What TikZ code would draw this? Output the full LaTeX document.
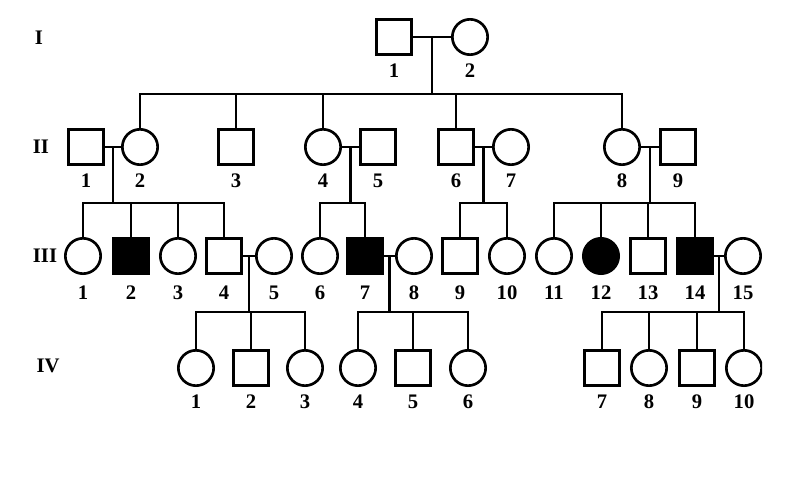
\documentclass[tikz,border=0pt]{standalone}
\usepackage{fontspec}
\setmainfont{Liberation Serif}
\usetikzlibrary{positioning, calc}
\tikzset{
  pedigree/.style={
	line width=2pt, % thick lines as in the scan
	x=0.75pt, y=-0.75pt, % one unit is one pixel, y goes down
	font=\fontsize{15.5}{17}\selectfont\bfseries,
	label distance=1.5pt,
  },
  male/.style={draw, rectangle, minimum size=26.5pt, inner sep=0pt}, % square
  female/.style={draw, circle, minimum size=26.5pt, inner sep=0pt}, % circle
  ill/.style={fill=black}, % affected person
}
\begin{document}
\begin{tikzpicture}[pedigree]
	  \useasboundingbox (0,0) rectangle (804,478);
	  \clip (0,0) rectangle (762,478);

	  % generations
	  \node (gI) at (39,38) {I};
	  \node (gII) at (41,147) {II};
	  \node (gIII) at (45,256) {III};
	  \node (gIV) at (48,366) {IV};

	  % I
	  \node[male, label=below:1] (I1) at (394,37) {};
	  \node[female, label=below:2] (I2) at (470,37) {};

	  % II
	  \node[male, label=below:1] (II1) at (86,147) {};
	  \node[female, label=below:2] (II2) at (140,147) {};
	  \node[male, label=below:3] (II3) at (236,147) {};
	  \node[female, label=below:4] (II4) at (323,147) {};
	  \node[male, label=below:5] (II5) at (378,147) {};
	  \node[male, label=below:6] (II6) at (456,147) {};
	  \node[female, label=below:7] (II7) at (511,147) {};
	  \node[female, label=below:8] (II8) at (622,147) {};
	  \node[male, label=below:9] (II9) at (678,147) {};

	  % III
	  \begin{scope}[label distance=4pt]
	  \node[female, label=below:1] (III1) at (83,256) {};
	  \node[male, ill, label=below:2] (III2) at (131,256) {};
	  \node[female, label=below:3] (III3) at (178,256) {};
	  \node[male, label=below:4] (III4) at (224,256) {};
	  \node[female, label=below:5] (III5) at (274,256) {};
	  \node[female, label=below:6] (III6) at (320,256) {};
	  \node[male, ill, label=below:7] (III7) at (365,256) {};
	  \node[female, label=below:8] (III8) at (414,256) {};
	  \node[male, label=below:9] (III9) at (460,256) {};
	  \node[female, label=below:10] (III10) at (507,256) {};
	  \node[female, label=below:11] (III11) at (554,256) {};
	  \node[female, ill, label=below:12] (III12) at (601,256) {};
	  \node[male, label=below:13] (III13) at (648,256) {};
	  \node[male, ill, label=below:14] (III14) at (695,256) {};
	  \node[female, label=below:15] (III15) at (743,256) {};
	  \end{scope}

	  % IV
	  \node[female, label=below:1] (IV1) at (196,368) {};
	  \node[male, label=below:2] (IV2) at (251,368) {};
	  \node[female, label=below:3] (IV3) at (305,368) {};
	  \node[female, label=below:4] (IV4) at (358,368) {};
	  \node[male, label=below:5] (IV5) at (413,368) {};
	  \node[female, label=below:6] (IV6) at (468,368) {};
	  \node[male, label=below:7] (IV7) at (602,368) {};
	  \node[female, label=below:8] (IV8) at (649,368) {};
	  \node[male, label=below:9] (IV9) at (697,368) {};
	  \node[female, label=below:10] (IV10) at (744,368) {};

	  % sibship levels
	  \coordinate (sI) at (0,94);
	  \coordinate (sII) at (0,203);
	  \coordinate (sIII) at (0,312);

	  % I1 x I2
	  \draw (I1) -- (I2);
	  \coordinate (mI) at ($(I1)!0.5!(I2)$);
	  \draw (mI) -- (mI |- sI);
	  \draw (II2.north) |- (sI -| II8.north) -- (II8.north);
	  \draw (II3.north) -- (II3.north |- sI)
		  (II4.north) -- (II4.north |- sI)
		  (II6.north) -- (II6.north |- sI);

	  % II1 x II2
	  \draw (II1) -- (II2);
	  \coordinate (m12) at ($(II1)!0.5!(II2)$);
	  \draw (m12) -- (m12 |- sII);
	  \draw (III1.north) |- (sII -| III4.north) -- (III4.north);
	  \draw (III2.north) -- (III2.north |- sII)
		  (III3.north) -- (III3.north |- sII);

	  % II4 x II5
	  \draw (II4) -- (II5);
	  \coordinate (m45) at ($(II4)!0.5!(II5)$);
	  \draw (m45) -- (m45 |- sII);
	  \draw (III6.north) |- (sII -| III7.north) -- (III7.north);

	  % II6 x II7
	  \draw (II6) -- (II7);
	  \coordinate (m67) at ($(II6)!0.5!(II7)$);
	  \draw (m67) -- (m67 |- sII);
	  \draw (III9.north) |- (sII -| III10.north) -- (III10.north);

	  % II8 x II9
	  \draw (II8) -- (II9);
	  \coordinate (m89) at ($(II8)!0.5!(II9)$);
	  \draw (m89) -- (m89 |- sII);
	  \draw (III11.north) |- (sII -| III14.north) -- (III14.north);
	  \draw (III12.north) -- (III12.north |- sII)
		  (III13.north) -- (III13.north |- sII);

	  % III4 x III5
	  \draw (III4) -- (III5);
	  \coordinate (m45b) at ($(III4)!0.5!(III5)$);
	  \draw (m45b) -- (m45b |- sIII);
	  \draw (IV1.north) |- (sIII -| IV3.north) -- (IV3.north);
	  \draw (IV2.north) -- (IV2.north |- sIII);

	  % III7 x III8
	  \draw (III7) -- (III8);
	  \coordinate (m78) at ($(III7)!0.5!(III8)$);
	  \draw (m78) -- (m78 |- sIII);
	  \draw (IV4.north) |- (sIII -| IV6.north) -- (IV6.north);
	  \draw (IV5.north) -- (IV5.north |- sIII);

	  % III14 x III15
	  \draw (III14) -- (III15);
	  \coordinate (m1415) at ($(III14)!0.5!(III15)$);
	  \draw (m1415) -- (m1415 |- sIII);
	  \draw (IV7.north) |- (sIII -| IV10.north) -- (IV10.north);
	  \draw (IV8.north) -- (IV8.north |- sIII)
		  (IV9.north) -- (IV9.north |- sIII);
\end{tikzpicture}
\end{document}
